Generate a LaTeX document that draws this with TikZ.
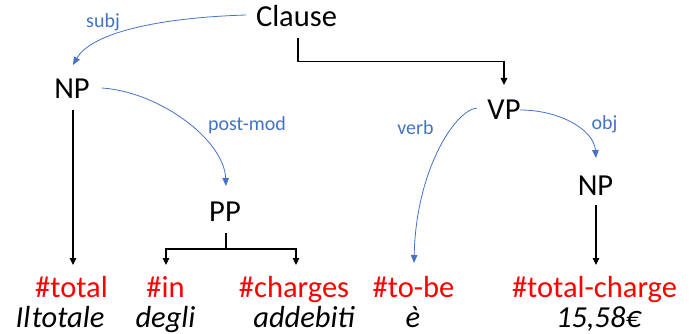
\documentclass[tikz,border=0pt]{standalone}
\usepackage{fontspec}
\setmainfont{Carlito}
\usetikzlibrary{arrows.meta,calc}
\definecolor{relblue}{HTML}{4472C4}
\definecolor{tagred}{HTML}{FF0000}
\tikzset{
  cat/.style={anchor=base, inner sep=0pt, font=\fontsize{30.5}{30.5}\selectfont},
  tag/.style={anchor=base, inner sep=0pt, text=tagred, font=\fontsize{30.5}{30.5}\selectfont},
  word/.style={anchor=base, inner sep=0pt, font=\fontsize{30.5}{30.5}\selectfont\itshape},
  rel/.style={anchor=base, inner sep=0pt, text=relblue, font=\fontsize{20}{20}\selectfont},
  tree/.style={draw=black, line width=1.2pt, -{Triangle[length=7pt,width=6.5pt]}},
  treeline/.style={draw=black, line width=1.2pt},
  dep/.style={draw=relblue, line width=0.8pt, -{Triangle[length=8pt,width=6.5pt]}}
}
\begin{document}
\begin{tikzpicture}[x=1pt,y=-1pt]
\useasboundingbox (0,0) rectangle (691,334);
% categories
\node[cat] (clause) at (296.5,27) {Clause};
\node[cat] (np1) at (72,99) {NP};
\node[cat] (pp) at (225,222) {PP};
\node[cat] (vp) at (504,120) {VP};
\node[cat] (np2) at (595.5,195) {NP};
% tags
\node[tag] (total) at (71.5,297) {\#total};
\node[tag] (in) at (165.5,297) {\#in};
\node[tag] (charges) at (294,297) {\#charges};
\node[tag] (tobe) at (413.5,297) {\#to-be};
\node[tag] (tcharge) at (594.5,297) {\#total-charge};
% words
\node[word] (iltotale) at (60,327) {Il\hspace{1.5pt}totale};
\node[word] (degli) at (165.5,327) {degli};
\node[word] (addebiti) at (304,327) {addebiti};
\node[word] (e) at (413,327) {è};
\node[word] (price) at (598.5,327) {15,58€};
% relation labels
\node[rel] (lsubj) at (103,28) {subj};
\node[rel] (lpost) at (247,131) {post-mod};
\node[rel] (lverb) at (415.5,135) {verb};
\node[rel] (lobj) at (604.5,130) {obj};
% tree connectors
\coordinate (cs) at ($(clause.base)+(1.5,11)$);
\coordinate (vt) at ($(vp.base)+(0,-35)$);
\draw[tree] (cs) |- ($(cs)!0.5!(vt)$) -| (vt);
\draw[tree] ($(np1.base)+(1,11)$) -- ($(total.base)+(1.5,-32)$);
\coordinate (ps) at ($(pp.base)+(1,11)$);
\draw[treeline] (ps) -- ++(0,16) coordinate (pj);
\draw[tree] (pj) -| ($(in.base)+(0.5,-32)$);
\draw[tree] (pj) -| ($(charges.base)+(2,-32)$);
\draw[tree] ($(np2.base)+(0.5,10)$) -- ($(tcharge.base)+(1.5,-32)$);
% dependency arcs
\draw[dep] ($(clause.base)+(-50.5,-12)$) .. controls (150,18) and (90,35) .. ($(np1.base)+(1,-34)$);
\draw[dep] ($(np1.base)+(30,-11)$) .. controls (160,92) and (224,140) .. ($(pp.base)+(1,-36)$);
\draw[dep] ($(vp.base)+(-27,-12)$) .. controls (455,110) and (416,170) .. ($(tobe.base)+(0.5,-34)$);
\draw[dep] ($(vp.base)+(16,-10)$) .. controls (560,110) and (594,130) .. ($(np2.base)+(0.5,-37)$);
\end{tikzpicture}
\end{document}
